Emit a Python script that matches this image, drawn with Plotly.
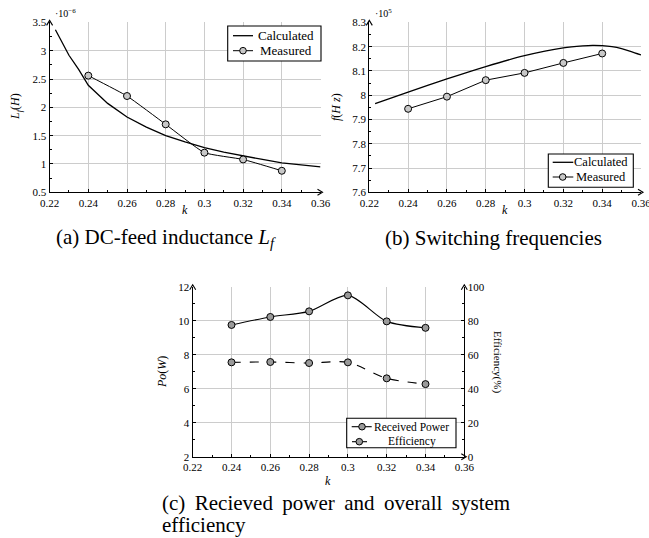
import plotly.graph_objects as go

# ---------------- data ----------------
# (a) DC-feed inductance (x1e-6 H)
k_calc_a = [0.223, 0.23, 0.235, 0.24, 0.25, 0.26, 0.27, 0.28, 0.29, 0.30, 0.31, 0.32, 0.33, 0.34, 0.35, 0.36]
lf_calc = [3.37, 2.92, 2.67, 2.39, 2.07, 1.83, 1.65, 1.50, 1.39, 1.29, 1.21, 1.14, 1.08, 1.02, 0.98, 0.95]
k_meas = [0.24, 0.26, 0.28, 0.30, 0.32, 0.34]
lf_meas = [2.56, 2.20, 1.70, 1.20, 1.08, 0.88]

# (b) switching frequency (x1e5 Hz)
k_calc_b = [0.223, 0.24, 0.26, 0.28, 0.30, 0.32, 0.33, 0.335, 0.34, 0.345, 0.35, 0.355, 0.36]
f_calc = [7.965, 8.013, 8.067, 8.118, 8.163, 8.195, 8.203, 8.205, 8.204, 8.200, 8.192, 8.180, 8.166]
f_meas = [7.944, 7.994, 8.062, 8.092, 8.133, 8.172]

# (c) received power (W) and efficiency (%)
po_meas = [9.75, 10.22, 10.55, 11.49, 9.96, 9.58]
eff_meas = [55.5, 55.7, 55.1, 55.5, 46.1, 42.7]

x_ticks = [0.22, 0.24, 0.26, 0.28, 0.30, 0.32, 0.34, 0.36]
x_tick_text = ["0.22", "0.24", "0.26", "0.28", "0.3", "0.32", "0.34", "0.36"]

legend_a = ["Calculated", "Measured"]
legend_b = ["Calculated", "Measured"]
legend_c = ["Received Power", "Efficiency"]

FONT = "Liberation Serif"
W, H = 649, 538
MK_AB = "#c8c8c8"
MK_C = "#9a9a9a"

fig = go.Figure()

mk_ab = dict(symbol="circle", size=7, color=MK_AB, line=dict(color="black", width=1))
mk_c = dict(symbol="circle", size=7, color=MK_C, line=dict(color="black", width=1))

fig.add_trace(go.Scatter(x=k_calc_a, y=lf_calc, mode="lines", name=legend_a[0],
                         line=dict(color="black", width=1.3), xaxis="x", yaxis="y"))
fig.add_trace(go.Scatter(x=k_meas, y=lf_meas, mode="lines+markers", name=legend_a[1],
                         line=dict(color="black", width=1, shape="spline", smoothing=0.4),
                         marker=mk_ab, xaxis="x", yaxis="y"))

fig.add_trace(go.Scatter(x=k_calc_b, y=f_calc, mode="lines", name=legend_b[0],
                         line=dict(color="black", width=1.3, shape="spline", smoothing=0.6),
                         xaxis="x2", yaxis="y2"))
fig.add_trace(go.Scatter(x=k_meas, y=f_meas, mode="lines+markers", name=legend_b[1],
                         line=dict(color="black", width=1), marker=mk_ab,
                         xaxis="x2", yaxis="y2"))

fig.add_trace(go.Scatter(x=k_meas, y=po_meas, mode="lines+markers", name=legend_c[0],
                         line=dict(color="black", width=1.1, shape="spline", smoothing=0.8),
                         marker=mk_c, xaxis="x3", yaxis="y3"))
fig.add_trace(go.Scatter(x=k_meas, y=eff_meas, mode="lines+markers", name=legend_c[1],
                         line=dict(color="black", width=1.1, dash="dash", shape="spline", smoothing=0.8),
                         marker=mk_c, xaxis="x3", yaxis="y4"))

tickfont = dict(family=FONT, size=11, color="black")
common_x = dict(range=[0.22, 0.36], tickvals=x_ticks, ticktext=x_tick_text, automargin=False,
                showgrid=True, gridcolor="#cccccc", gridwidth=1, zeroline=False,
                showline=True, linecolor="black", linewidth=1.3, ticklabeloverflow="allow",
                ticks="inside", ticklen=3, tickcolor="black", tickfont=tickfont,
                minor=dict(dtick=0.01, ticks="inside", ticklen=2, tickcolor="black", showgrid=False))

def yax(rng, dtick, mdtick, domain, anchor):
    return dict(range=rng, dtick=dtick, domain=domain, anchor=anchor, automargin=False,
                showgrid=True, gridcolor="#cccccc", gridwidth=1, zeroline=False,
                showline=True, linecolor="black", linewidth=1.3,
                ticks="inside", ticklen=3, tickcolor="black", tickfont=tickfont,
                minor=dict(dtick=mdtick, ticks="inside", ticklen=2, tickcolor="black", showgrid=False))

# plot-area pixel boxes (left, right, top, bottom)
A = (49.6, 320.5, 22.4, 192.3)
B = (369.3, 641.0, 22.4, 192.3)
C = (192.7, 464.3, 286.7, 456.7)

def px(x):
    return x / W

def py(y):
    return 1 - y / H

def xd(b):
    return [px(b[0]), px(b[1])]

def yd(b):
    return [py(b[3]), py(b[2])]

fig.update_layout(
    width=W, height=H, margin=dict(l=0, r=0, t=0, b=0, autoexpand=False),
    paper_bgcolor="white", plot_bgcolor="white",
    font=dict(family=FONT, color="black"),
    showlegend=False,
    xaxis=dict(common_x, domain=xd(A), anchor="y"),
    yaxis=yax([0.5, 3.5], 0.5, 0.25, yd(A), "x"),
    xaxis2=dict(common_x, domain=xd(B), anchor="y2"),
    yaxis2=yax([7.6, 8.3], 0.1, 0.05, yd(B), "x2"),
    xaxis3=dict(common_x, domain=xd(C), anchor="y3"),
    yaxis3=yax([2, 12], 2, 1, yd(C), "x3"),
    yaxis4=dict(range=[0, 100], dtick=20, overlaying="y3", side="right", anchor="x3", automargin=False,
                showgrid=False, zeroline=False, showline=True, linecolor="black", linewidth=1.3,
                ticks="inside", ticklen=3, tickcolor="black", tickfont=tickfont,
                minor=dict(dtick=10, ticks="inside", ticklen=2, tickcolor="black")),
)

ann = []
shapes = []

def txt(x, y, s, size=11, angle=0, xanchor="center", yanchor="middle"):
    ann.append(dict(x=px(x), y=py(y), xref="paper", yref="paper", text=s, showarrow=False,
                    font=dict(family=FONT, size=size, color="black"), textangle=angle,
                    xanchor=xanchor, yanchor=yanchor))

def seg(x0, y0, x1, y1, width=1.1, dash=None):
    ln = dict(color="black", width=width)
    if dash:
        ln["dash"] = dash
    shapes.append(dict(type="line", x0=px(x0), y0=py(y0), x1=px(x1), y1=py(y1),
                       xref="paper", yref="paper", line=ln))

def dot(x, y, fill, r=3.3):
    shapes.append(dict(type="circle", x0=px(x - r), x1=px(x + r), y0=py(y + r), y1=py(y - r),
                       xref="paper", yref="paper", fillcolor=fill, line=dict(color="black", width=1)))

def box(x0, y0, x1, y1):
    shapes.append(dict(type="rect", x0=px(x0), x1=px(x1), y0=py(y1), y1=py(y0),
                       xref="paper", yref="paper", fillcolor="white", line=dict(color="black", width=1.1)))

# axis titles
txt(185, 210, "<i>k</i>", 12)
txt(505, 210, "<i>k</i>", 12)
txt(328, 481, "<i>k</i>", 12)
txt(16, 107, "<i>L<sub>f</sub></i>(<i>H</i>)", 12, -90)
txt(336, 107, "<i>f</i>(<i>H z</i>)", 12, -90)
txt(162, 372, "<i>Po</i>(<i>W</i>)", 12, -90)
txt(497, 362, "Efficiency(%)", 11, 90)
# exponents
txt(53, 13, "·10<sup>−6</sup>", 10, 0, "left")
txt(373, 13, "·10<sup>5</sup>", 10, 0, "left")
# captions
txt(54, 238, "(a) DC-feed inductance <i>L<sub>f</sub></i>", 21, 0, "left")
txt(383, 238, "(b) Switching frequencies", 21, 0, "left")
txt(160, 503, "(c)\u2009 Recieved\u2009 power\u2009 and\u2009 overall\u2009 system", 21, 0, "left")
txt(160, 525, "efficiency", 21, 0, "left")

# legend (a)
box(227.7, 26, 321, 61)
seg(233, 35.7, 253, 35.7, 1.3)
seg(233, 50.7, 253, 50.7, 1.0)
dot(243, 50.7, MK_AB)
txt(286, 35.7, legend_a[0], 13)
txt(286, 50.7, legend_a[1], 13)

# legend (b)
box(548.3, 154, 633.3, 187.3)
seg(552.7, 162.3, 573.3, 162.3, 1.3)
seg(552.7, 177, 573.3, 177, 1.0)
dot(562.7, 177, MK_AB)
txt(601, 162.3, legend_b[0], 12.5)
txt(601, 177, legend_b[1], 12.5)

# legend (c)
box(346.7, 418.3, 456, 447.7)
seg(351.7, 426.7, 371.7, 426.7, 1.1)
dot(362, 426.7, MK_C)
seg(352, 441.7, 356.5, 441.7, 1.1)
seg(362.5, 441.7, 367, 441.7, 1.1)
dot(359.3, 441.7, MK_C)
txt(412, 426.7, legend_c[0], 11.5)
txt(412, 441.7, legend_c[1], 11.5)

# axis arrowheads (small open heads at the ends of axis lines)
def head(hx, hy, direction):
    if direction == "right":
        pts = [(hx - 3, hy - 3), (hx + 2, hy), (hx - 3, hy + 3)]
    else:
        pts = [(hx - 3, hy + 3), (hx, hy - 2), (hx + 3, hy + 3)]
    path = "M {} {} L {} {} L {} {}".format(*[v for p in pts for v in (px(p[0]), py(p[1]))])
    shapes.append(dict(type="path", path=path, xref="paper", yref="paper",
                       line=dict(color="black", width=1.1)))

for bx in (A, B, C):
    head(bx[1], bx[3], "right")
    head(bx[0], bx[2], "up")
head(C[1], C[2], "up")

fig.update_layout(annotations=ann, shapes=shapes)

# remove the default page margin so the figure sits at the window's top-left corner
fig.write_html("out.html", config={"displayModeBar": False},
               post_script="document.body.style.margin='0';document.body.style.overflow='hidden';")
